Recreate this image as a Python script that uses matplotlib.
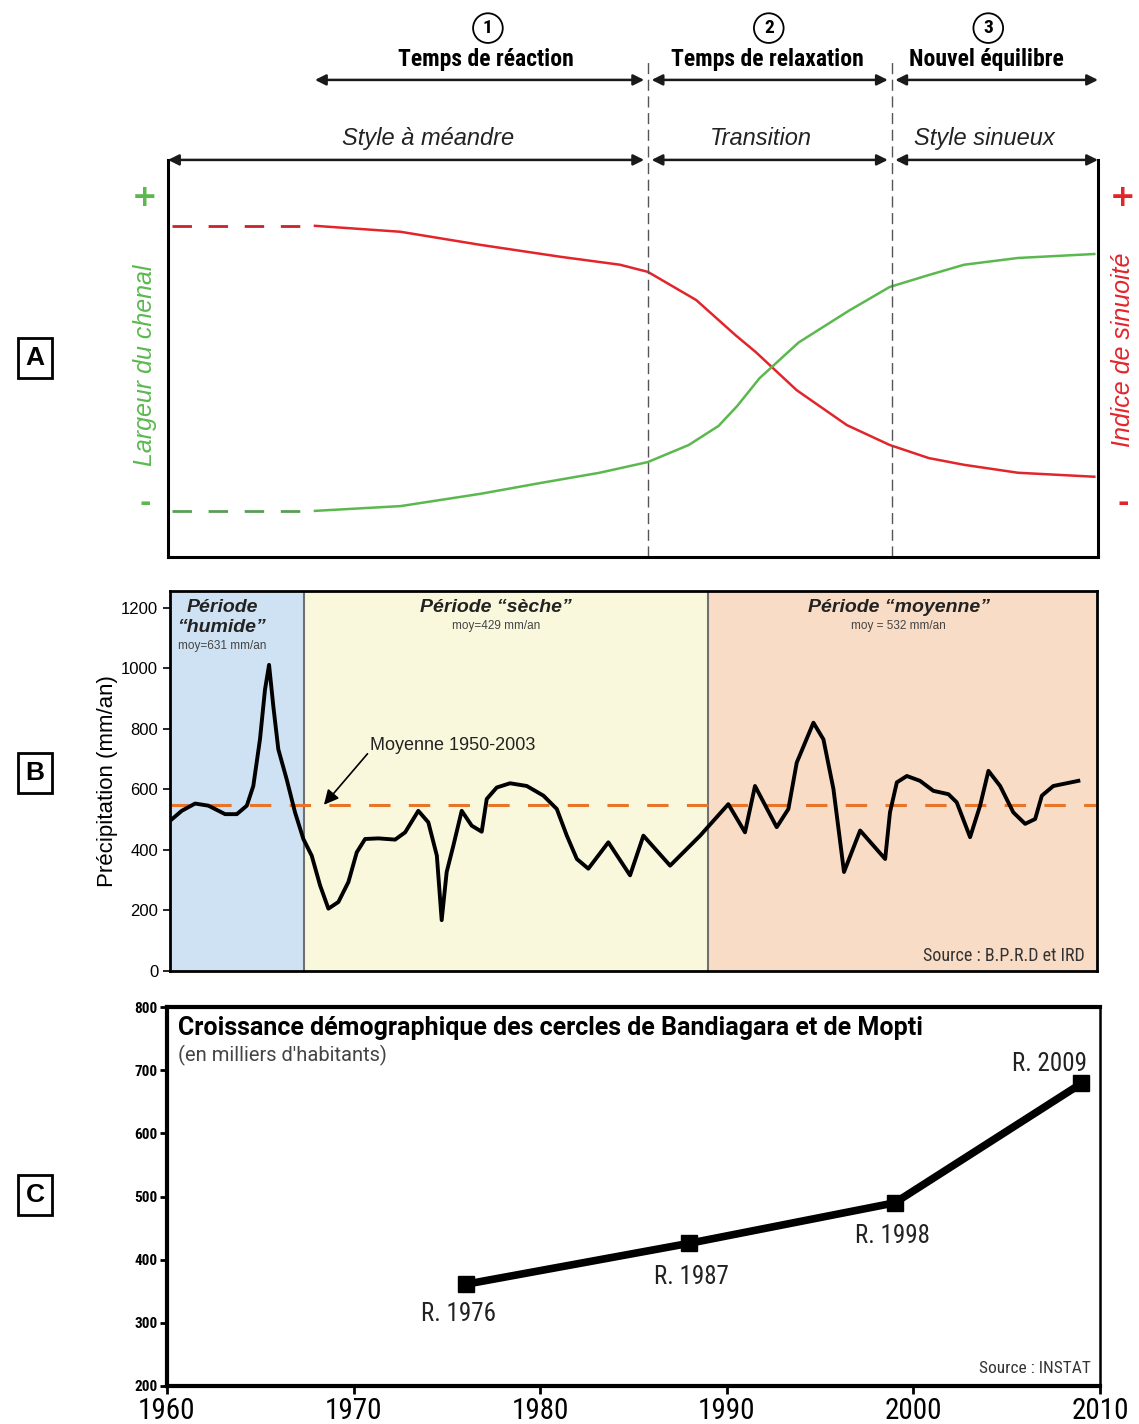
import matplotlib.pyplot as plt

# ---- data -------------------------------------------------------------
# Panel A: schematic channel response (x in years, y relative 0-1)
sinu_x = [1960.2, 1967.9, 1972.5, 1976.8, 1981.1, 1984.3, 1985.8, 1988.4,
          1990.5, 1991.6, 1993.8, 1996.5, 1998.8, 2000.9, 2002.8, 2005.7, 2009.8]
sinu_y = [0.834, 0.834, 0.819, 0.786, 0.756, 0.736, 0.718, 0.647,
          0.559, 0.516, 0.420, 0.332, 0.282, 0.249, 0.232, 0.212, 0.202]
larg_x = [1960.2, 1967.9, 1972.5, 1976.8, 1980.0, 1983.2, 1985.8, 1988.0,
          1989.6, 1990.6, 1991.8, 1993.9, 1996.6, 1998.8, 2000.9, 2002.8, 2005.7, 2009.8]
larg_y = [0.116, 0.116, 0.128, 0.159, 0.186, 0.212, 0.239, 0.282,
          0.330, 0.380, 0.450, 0.540, 0.620, 0.680, 0.710, 0.736, 0.753, 0.763]
phase_bounds = [1985.8, 1998.9]

# Panel B: annual rainfall (mm/an)
rain_year = [1960.00, 1960.63, 1961.35, 1962.07, 1962.97, 1963.60, 1964.14, 1964.49,
             1964.85, 1965.12, 1965.34, 1965.57, 1965.84, 1966.29, 1966.74, 1967.19,
             1967.64, 1968.09, 1968.54, 1969.08, 1969.62, 1970.07, 1970.52, 1971.24,
             1972.14, 1972.68, 1973.39, 1973.93, 1974.39, 1974.65, 1974.92, 1975.28,
             1975.73, 1976.27, 1976.81, 1977.08, 1977.62, 1978.34, 1979.24, 1980.14,
             1980.86, 1981.40, 1981.94, 1982.56, 1983.64, 1984.81, 1985.53, 1986.97,
             1988.59, 1990.11, 1991.01, 1991.55, 1992.72, 1993.35, 1993.80, 1994.70,
             1995.24, 1995.78, 1996.35, 1997.22, 1998.57, 1998.83, 1999.20, 1999.74,
             2000.45, 2001.17, 2001.98, 2002.43, 2003.15, 2003.69, 2004.14, 2004.77,
             2005.48, 2006.12, 2006.66, 2007.02, 2007.64, 2008.99]
rain_mm = [496, 529, 553, 546, 518, 518, 546, 611,
           765, 929, 1011, 874, 732, 633, 524, 436,
           381, 283, 206, 228, 294, 392, 436, 438,
           434, 458, 529, 491, 381, 168, 327, 414,
           529, 480, 460, 568, 606, 620, 611, 579,
           535, 447, 370, 338, 425, 316, 447, 348,
           447, 551, 458, 611, 475, 535, 688, 820,
           765, 601, 327, 464, 370, 524, 623, 644,
           628, 595, 584, 557, 442, 546, 661, 611,
           524, 486, 502, 579, 611, 628]
rain_mean = 549
period_edges = [1960, 1967.25, 1989.0, 2010]
period_colors = ["#cfe2f3", "#faf8dc", "#f8dcc6"]

# Panel C: census population (thousands)
census_year = [1976, 1988, 1999, 2009]
population = [361, 426, 490, 679]
census_label = ["R. 1976", "R. 1987", "R. 1998", "R. 2009"]

COND = ["Roboto Condensed", "Liberation Sans Narrow", "Roboto", "DejaVu Sans"]
ROBOTO = ["Roboto", "DejaVu Sans"]
ARIAL = ["Liberation Sans", "DejaVu Sans"]
GREEN = "#5bb84f"
RED = "#e2252b"

fig = plt.figure(figsize=(11.39, 14.24), dpi=100)

# ---- panel A ----------------------------------------------------------
ax_a = fig.add_axes([0.1475, 0.6089, 0.8165, 0.2788])
ax_a.set_xlim(1960, 2010)
ax_a.set_ylim(0, 1)
ax_a.plot(sinu_x[:2], sinu_y[:2], color="#c8232c", lw=2, dashes=(7, 6))
ax_a.plot(sinu_x[1:], sinu_y[1:], color=RED, lw=1.8)
ax_a.plot(larg_x[:2], larg_y[:2], color="#5a9e55", lw=2, dashes=(7, 6))
ax_a.plot(larg_x[1:], larg_y[1:], color=GREEN, lw=1.8)
for s in ["left", "bottom", "right"]:
    ax_a.spines[s].set_linewidth(2.2)
ax_a.spines["top"].set_visible(False)
ax_a.set_xticks([])
ax_a.set_yticks([])

tr = ax_a.get_xaxis_transform()
for xb in phase_bounds:
    ax_a.plot([xb, xb], [0, 1.26], transform=tr, color="#555555", lw=1,
              dashes=(8, 4), clip_on=False)


def darrow(x0, x1, y):
    ax_a.annotate("", xy=(x1, y), xytext=(x0, y), xycoords=tr, textcoords=tr,
                  annotation_clip=False,
                  arrowprops=dict(arrowstyle="<|-|>", color="#1a1a1a", lw=1.8,
                                  mutation_scale=16, shrinkA=0, shrinkB=0))


for x0, x1 in [(1967.9, 1985.6), (1986.0, 1998.7), (1999.1, 2010.0)]:
    darrow(x0, x1, 1.2015)
for x0, x1 in [(1960.0, 1985.6), (1986.0, 1998.7), (1999.1, 2010.0)]:
    darrow(x0, x1, 1.0)

for xc, num, lab in [(1977.2, "1", "Temps de réaction"),
                     (1992.3, "2", "Temps de relaxation"),
                     (2004.1, "3", "Nouvel équilibre")]:
    ax_a.text(xc, 1.332, num, transform=tr, ha="center", va="center",
              fontsize=14, fontweight="bold", family=COND,
              bbox=dict(boxstyle="circle,pad=0.3", fc="white", ec="black", lw=1.3))
    ax_a.text(xc - 0.1, 1.252, lab, transform=tr, ha="center", va="center",
              fontsize=17, fontweight="bold", family=COND)

for xc, lab in [(1974.0, "Style à méandre"), (1991.9, "Transition"),
                (2003.9, "Style sinueux")]:
    ax_a.text(xc, 1.055, lab, transform=tr, ha="center", va="center",
              fontsize=17, style="italic", family=ARIAL, color="#222222")

fig.text(145 / 1139, 1 - 365 / 1424, "Largeur du chenal", rotation=90,
         ha="center", va="center", fontsize=18, style="italic",
         family=ARIAL, color=GREEN)
fig.text(145 / 1139, 1 - 197 / 1424, "+", ha="center", va="center",
         fontsize=22, fontweight="bold", color=GREEN)
fig.text(145 / 1139, 1 - 503 / 1424, "-", ha="center", va="center",
         fontsize=20, fontweight="bold", color=GREEN)
fig.text(1123 / 1139, 1 - 350 / 1424, "Indice de sinuoité", rotation=90,
         ha="center", va="center", fontsize=18, style="italic",
         family=ARIAL, color=RED)
fig.text(1123 / 1139, 1 - 197 / 1424, "+", ha="center", va="center",
         fontsize=22, fontweight="bold", color=RED)
fig.text(1123 / 1139, 1 - 503 / 1424, "-", ha="center", va="center",
         fontsize=20, fontweight="bold", color=RED)

# ---- panel B ----------------------------------------------------------
ax_b = fig.add_axes([0.1493, 0.3181, 0.8139, 0.2669])
ax_b.set_xlim(1960, 2010)
ax_b.set_ylim(0, 1255)
for (x0, x1), c in zip(zip(period_edges[:-1], period_edges[1:]), period_colors):
    ax_b.axvspan(x0, x1, color=c, lw=0, zorder=0)
for xb in period_edges[1:-1]:
    ax_b.axvline(xb, color="#707070", lw=1.5, zorder=1)
ax_b.axhline(rain_mean, color="#e8742a", lw=2.2, dashes=(7, 6), zorder=2)
ax_b.plot(rain_year, rain_mm, color="black", lw=2.8, solid_joinstyle="round",
          zorder=3)
ax_b.set_xticks([])
ax_b.set_yticks(range(0, 1201, 200))
ax_b.tick_params(axis="y", length=5, width=1.2, labelsize=12)
for t in ax_b.get_yticklabels():
    t.set_family(ARIAL)
for s in ax_b.spines.values():
    s.set_linewidth(2)
ax_b.set_ylabel("Précipitation (mm/an)", fontsize=16, family=ARIAL, labelpad=2)

PER = dict(ha="center", va="center", fontsize=14, fontweight="bold",
           style="italic", family=ARIAL, color="#222222")
MOY = dict(ha="center", va="center", fontsize=8.5, family=ARIAL, color="#444444")
ax_b.text(1962.8, 1199, "Période", **PER)
ax_b.text(1962.8, 1133, "“humide”", **PER)
ax_b.text(1962.8, 1072, "moy=631 mm/an", **MOY)
ax_b.text(1977.6, 1199, "Période “sèche”", **PER)
ax_b.text(1977.6, 1138, "moy=429 mm/an", **MOY)
ax_b.text(1999.3, 1199, "Période “moyenne”", **PER)
ax_b.text(1999.3, 1138, "moy = 532 mm/an", **MOY)
ax_b.annotate("Moyenne 1950-2003", xy=(1968.3, rain_mean), xytext=(1970.8, 745),
              ha="left", va="center", fontsize=13, family=ARIAL, color="#222222",
              arrowprops=dict(arrowstyle="-|>", color="black", lw=1.2,
                              mutation_scale=22, shrinkA=0, shrinkB=0,
                              relpos=(0.0, 0.2)),
              zorder=4)
ax_b.text(0.987, 0.04, "Source : B.P.R.D et IRD", transform=ax_b.transAxes,
          ha="right", va="center", fontsize=13, family=COND, color="#333333")

# ---- panel C ----------------------------------------------------------
ax_c = fig.add_axes([0.1466, 0.0267, 0.8192, 0.2661])
ax_c.set_xlim(1960, 2010)
ax_c.set_ylim(200, 800)
ax_c.plot(census_year, population, color="black", lw=5.5, marker="s",
          markersize=11, solid_capstyle="butt")
ax_c.set_xticks(range(1960, 2011, 10))
ax_c.set_yticks(range(200, 801, 100))
ax_c.tick_params(axis="x", length=6, width=2, labelsize=21, pad=2)
ax_c.tick_params(axis="y", length=5, width=2, labelsize=11, pad=2)
for t in ax_c.get_xticklabels():
    t.set_family(COND)
for t in ax_c.get_yticklabels():
    t.set_family(COND)
    t.set_fontweight("bold")
for s in ["left", "bottom", "top"]:
    ax_c.spines[s].set_linewidth(3)
ax_c.spines["right"].set_linewidth(1.8)

offsets = [(-0.4, -47), (0.1, -53), (-0.1, -53), (-1.7, 31)]
for x, y, lab, (dx, dy) in zip(census_year, population, census_label, offsets):
    ax_c.text(x + dx, y + dy, lab, ha="center", va="center", fontsize=18,
              family=COND, color="#222222")

ax_c.text(0.012, 0.945, "Croissance démographique des cercles de Bandiagara et de Mopti",
          transform=ax_c.transAxes, ha="left", va="center", fontsize=18,
          fontweight="bold", family=ROBOTO)
ax_c.text(0.012, 0.872, "(en milliers d'habitants)", transform=ax_c.transAxes,
          ha="left", va="center", fontsize=14.5, family=ROBOTO, color="#444444")
ax_c.text(0.99, 0.045, "Source : INSTAT", transform=ax_c.transAxes,
          ha="right", va="center", fontsize=12.5, family=COND, color="#333333")

# ---- panel letters ----------------------------------------------------
for lab, ypx in [("A", 358), ("B", 773), ("C", 1195)]:
    fig.text(35 / 1139, 1 - ypx / 1424, lab, ha="center", va="center",
             fontsize=19, fontweight="bold", family=ARIAL,
             bbox=dict(boxstyle="square,pad=0.3", fc="white", ec="black", lw=2))

fig.savefig("out.png", dpi=100)
